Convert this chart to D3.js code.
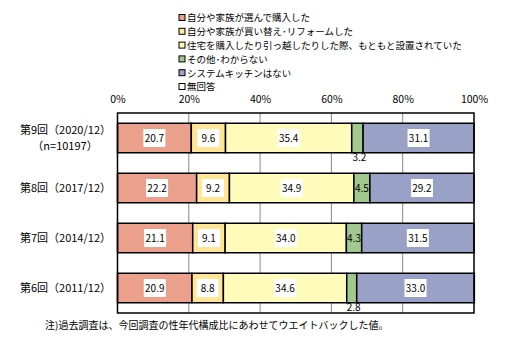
<!DOCTYPE html>
<html><head><meta charset="utf-8">
<script src="https://cdn.jsdelivr.net/npm/d3@7"></script>
<style>body{margin:0;background:#fff}svg{display:block}text{font-family:"Noto Sans CJK JP",sans-serif;fill:#000}</style>
</head><body><svg id="c" width="509" height="356"></svg>
<script>
const categories = ["第9回（2020/12）", "第8回（2017/12）", "第7回（2014/12）", "第6回（2011/12）"];
const subLabels = ["（n=10197）", "", "", ""];
const seriesNames = ["自分や家族が選んで購入した", "自分や家族が買い替え･リフォームした", "住宅を購入したり引っ越したりした際、もともと設置されていた", "その他･わからない", "システムキッチンはない", "無回答"];
const s1 = [20.7, 22.2, 21.1, 20.9];
const s2 = [9.6, 9.2, 9.1, 8.8];
const s3 = [35.4, 34.9, 34.0, 34.6];
const s4 = [3.2, 4.5, 4.3, 2.8];
const s5 = [31.1, 29.2, 31.5, 33.0];
const s6 = [0, 0, 0, 0];
const colors = ["#EBA08B", "#FFE595", "#FFFBBB", "#A2C98D", "#99A1C7", "#FFFFFF"];
const tickValues = [0, 20, 40, 60, 80, 100];
const note = "注)過去調査は、今回調査の性年代構成比にあわせてウエイトバックした値。";

const series = [s1, s2, s3, s4, s5, s6];
const svg = d3.select("#c");
const x = d3.scaleLinear().domain([0, 100]).range([117.5, 474]);
const y = d3.scaleBand().domain(categories).range([113, 313]).paddingInner(0.41).paddingOuter(0.205);

// gridlines
svg.append("g").selectAll("line").data(tickValues.slice(1, -1)).join("line")
  .attr("x1", d => x(d)).attr("x2", d => x(d)).attr("y1", 113).attr("y2", 313)
  .attr("stroke", "#888").attr("stroke-width", 1);

// axis labels on top
const ax = d3.axisTop(x).tickValues(tickValues).tickFormat(d => d + "%").tickSize(0);
const axg = svg.append("g").attr("transform", "translate(0,106)").call(ax);
axg.select(".domain").remove();
axg.selectAll("text").style("font-size", "10.5px").style("font-family", "\"Noto Sans CJK JP\",sans-serif").attr("dy", "0");

// stacked bars
const stackData = categories.map((c, i) => {
  let acc = 0;
  return series.map((s, k) => { const r = {cat: c, k, v: s[i], x0: acc, x1: acc + s[i]}; acc += s[i]; return r; });
});
const rows = svg.append("g").selectAll("g").data(stackData).join("g");
rows.selectAll("rect").data(d => d.filter(e => e.v > 0)).join("rect")
  .attr("x", d => x(d.x0)).attr("width", d => x(d.x1) - x(d.x0))
  .attr("y", d => y(d.cat)).attr("height", y.bandwidth())
  .attr("fill", d => colors[d.k]).attr("stroke", "#000").attr("stroke-width", 1.5);

// labels
rows.each(function(row) {
  const g = d3.select(this);
  row.forEach(d => {
    if (d.v <= 0) return;
    const cx = (x(d.x0) + x(d.x1)) / 2;
    const cy = y(d.cat) + y.bandwidth() / 2;
    const txt = d.v.toFixed(1);
    if (d.v < 4) {
      g.append("text").attr("x", cx + 2).attr("y", y(d.cat) + y.bandwidth() + 8)
        .attr("text-anchor", "middle").style("font-size", "10px").text(txt);
    } else if (d.v < 5) {
      g.append("text").attr("x", cx).attr("y", cy + 4)
        .attr("text-anchor", "middle").style("font-size", "10px").text(txt);
    } else {
      const w = 22, h = 18;
      g.append("rect").attr("x", cx - w / 2).attr("y", cy - h / 2).attr("width", w).attr("height", h).attr("fill", "#fff");
      g.append("text").attr("x", cx).attr("y", cy + 4)
        .attr("text-anchor", "middle").style("font-size", "10px").text(txt);
    }
  });
});

// plot border
svg.append("rect").attr("x", 117.5).attr("y", 113).attr("width", 474 - 117.5).attr("height", 200)
  .attr("fill", "none").attr("stroke", "#000").attr("stroke-width", 1.5);

// category labels
categories.forEach((c, i) => {
  const cy = y(c) + y.bandwidth() / 2;
  if (subLabels[i]) {
    svg.append("text").attr("x", 111).attr("y", cy - 4).attr("text-anchor", "end").style("font-size", "11px").text(c);
    svg.append("text").attr("x", 65).attr("y", cy + 12).attr("text-anchor", "middle").style("font-size", "11px").text(subLabels[i]);
  } else {
    svg.append("text").attr("x", 111).attr("y", cy + 4).attr("text-anchor", "end").style("font-size", "11px").text(c);
  }
});

// legend
const lg = svg.append("g").selectAll("g").data(seriesNames).join("g")
  .attr("transform", (d, i) => `translate(179,${18 + i * 13.8})`);
lg.append("rect").attr("x", 0).attr("y", -3.5).attr("width", 6).attr("height", 6)
  .attr("fill", (d, i) => colors[i]).attr("stroke", "#000").attr("stroke-width", 1);
lg.append("text").attr("x", 8).attr("y", 3.4).style("font-size", "9.5px").text(d => d);

// footnote
svg.append("text").attr("x", 45).attr("y", 329).style("font-size", "10px").text(note);
</script></body></html>
